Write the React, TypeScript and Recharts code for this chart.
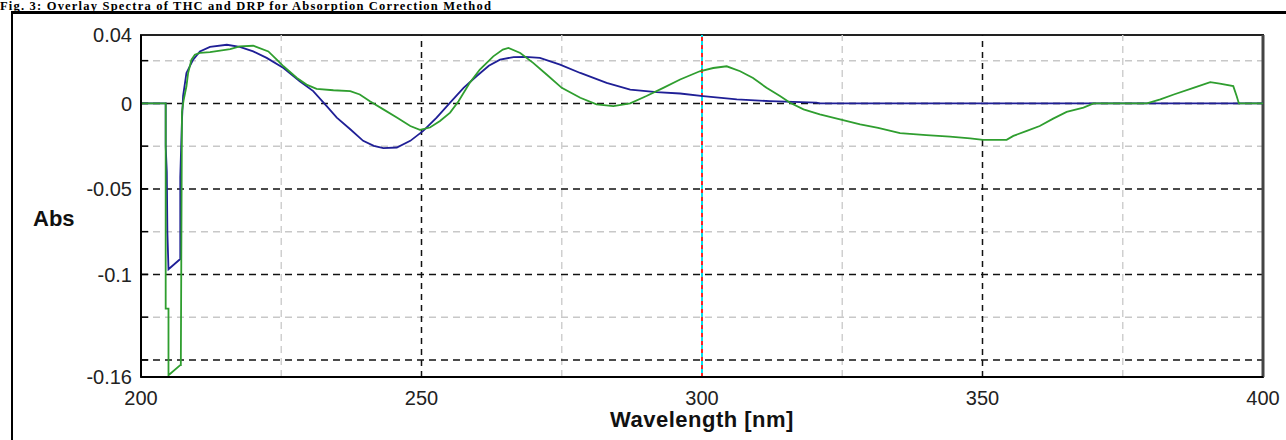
import React from 'react';
import { LineChart, Line, XAxis, YAxis, ReferenceLine, ReferenceArea } from 'recharts';

// blue trace
const thcWavelength = [
  200, 204.4, 204.4, 204.6, 204.7, 204.9, 207.0, 207.0, 207.3, 207.5, 208.1, 209.3, 210.5,
  212.3, 215.3, 217.6, 220, 222.4, 225.4, 228.3, 230.7, 233.1, 234.9, 237.3, 239.6, 241.5,
  243.2, 245.6, 248, 250.3, 252.7, 255.1, 257.5, 259.8, 262, 264, 266.4, 268.5, 271.1, 274.7,
  278.3, 283, 287.2, 291.9, 296.1, 300.2, 306.2, 312.1, 320.4, 321, 400,
];
const thcAbs = [
  0, 0, -0.025, -0.04, -0.075, -0.097, -0.091, -0.043, -0.01, 0.0043, 0.0178, 0.0256, 0.0304,
  0.033, 0.0343, 0.033, 0.0304, 0.0266, 0.0207, 0.013, 0.0072, -0.0016, -0.0083, -0.0151, -0.0219, -0.0248,
  -0.0262, -0.0258, -0.0219, -0.0161, -0.0083, 0.0004, 0.0091, 0.0159, 0.022, 0.0256, 0.0271, 0.0272, 0.0266, 0.0227,
  0.0178, 0.012, 0.0081, 0.0066, 0.0058, 0.0043, 0.0023, 0.0013, 0.0004, 0, 0,
];

// green trace
const drpWavelength = [
  200, 204.4, 204.4, 204.9, 204.9, 207.0, 207.1, 207.3, 207.6, 208.1, 208.4, 209.0, 209.6,
  210.5, 212.3, 215.9, 217.6, 220, 222.7, 224.2, 225.4, 227.8, 229.5, 231.3, 234.3, 237.3,
  239, 240.8, 243.2, 245.6, 248, 249.7, 251.5, 253.3, 255.1, 256.6, 258.6, 260.4, 262.8,
  264.5, 265.5, 267.6, 269.9, 272.3, 275, 278.3, 281.2, 284.2, 287.2, 290.1, 293.1, 296.1,
  299.6, 302, 304.4, 306.8, 309.1, 311.5, 313.9, 315.7, 318.1, 321, 324.6, 328.2, 331.4,
  335.3, 340, 344.2, 347.8, 350.1, 354.3, 355.5, 357.9, 360.2, 362.6, 365, 368, 369.8,
  379.3, 381.7, 384.1, 387.6, 390.6, 392.3, 394.7, 395.3, 395.7, 400,
];
const drpAbs = [
  0, 0, -0.12, -0.12, -0.159, -0.153, -0.153, -0.005, 0.002, 0.01, 0.0178, 0.0256, 0.0285,
  0.0295, 0.03, 0.0318, 0.0333, 0.0337, 0.0304, 0.0256, 0.0217, 0.0149, 0.011, 0.0085, 0.0077, 0.0072,
  0.0052, 0.0013, -0.0035, -0.0083, -0.0132, -0.0155, -0.0141, -0.0103, -0.0054, 0.0013, 0.012, 0.0198, 0.0275,
  0.0315, 0.0324, 0.0295, 0.0237, 0.0169, 0.0091, 0.0033, -0.0006, -0.0016, 0, 0.0043, 0.0091, 0.014,
  0.0188, 0.0207, 0.0217, 0.0188, 0.0149, 0.0091, 0.0043, 0.0004, -0.0035, -0.0064, -0.0093, -0.0122, -0.0143,
  -0.0174, -0.0186, -0.0194, -0.0205, -0.0213, -0.0213, -0.019, -0.0161, -0.0132, -0.0089, -0.005, -0.0025, 0,
  0, 0.0023, 0.0052, 0.0091, 0.0124, 0.0116, 0.0101, 0.0043, 0, 0,
];

const xTicks = [200, 250, 300, 350, 400];
const yTicks = [0.04, 0, -0.05, -0.1, -0.16];
const majorY = [0, -0.05, -0.1, -0.15];
const minorY = [0.025, -0.025, -0.075, -0.125];
const majorX = [250, 350];
const minorX = [225, 275, 325, 375];
const cursorX = 300;

const thcData = thcWavelength.map((x, i) => ({ x, y: thcAbs[i] }));
const drpData = drpWavelength.map((x, i) => ({ x, y: drpAbs[i] }));

const tickFont = { fontSize: 20, fill: '#222', fontFamily: 'Liberation Sans, Arial, sans-serif' };

export default function App() {
  return (
    <div style={{ position: 'relative', width: 1286, height: 440, overflow: 'hidden', background: '#fff' }}>
      <style>{`body{margin:0}`}</style>
      <div
        style={{
          position: 'absolute', left: 0, top: 0, fontFamily: 'Liberation Serif, Times New Roman, serif',
          fontWeight: 'bold', fontSize: 12.5, lineHeight: '12px', letterSpacing: 1.2,
          whiteSpace: 'nowrap', color: '#000',
        }}
      >
        Fig. 3: Overlay Spectra of THC and DRP for Absorption Correction Method
      </div>
      <div
        style={{
          position: 'absolute', left: 11, top: 11, width: 1300, height: 460,
          borderLeft: '2px solid #000', borderTop: '3px solid #000', boxSizing: 'border-box',
        }}
      />
      <div style={{ position: 'absolute', left: 0, top: 0 }}>
        <LineChart width={1286} height={440} data={thcData} margin={{ top: 35, right: 23, bottom: 33, left: 0 }}>
          <XAxis
            dataKey="x" type="number" domain={[200, 400]} ticks={xTicks} allowDataOverflow height={30}
            axisLine={{ stroke: '#000', strokeWidth: 2 }} tickLine={false} tickSize={0} tickMargin={14}
            tick={tickFont}
          />
          <YAxis
            type="number" domain={[-0.16, 0.04]} ticks={yTicks} allowDataOverflow width={141}
            axisLine={{ stroke: '#000', strokeWidth: 2 }} tickLine={false} tickSize={6} tickMargin={3}
            tick={tickFont} tickFormatter={(v: number) => String(v)}
          />
          {minorY.map((v) => (
            <ReferenceLine key={'my' + v} y={v} stroke="#c8c8c8" strokeWidth={1.5} strokeDasharray="7 5" />
          ))}
          {minorX.map((v) => (
            <ReferenceLine key={'mx' + v} x={v} stroke="#cfcfcf" strokeWidth={1.5} strokeDasharray="7 5" />
          ))}
          {majorY.map((v) => (
            <ReferenceLine key={'My' + v} y={v} stroke="#111" strokeWidth={1.5} strokeDasharray="7 5" />
          ))}
          {majorX.map((v) => (
            <ReferenceLine key={'Mx' + v} x={v} stroke="#111" strokeWidth={1.5} strokeDasharray="6 5" />
          ))}
          {[...majorY, ...minorY].map((v) => (
            <ReferenceLine key={'t' + v} segment={[{ x: 200, y: v }, { x: 201.3, y: v }]} stroke="#000" strokeWidth={1.5} />
          ))}
          <ReferenceLine x={cursorX} stroke="#00e5ee" strokeWidth={2} />
          <ReferenceLine x={cursorX} stroke="#ff2020" strokeWidth={2} strokeDasharray="4 4" />
          <ReferenceArea x1={200} x2={400} y1={-0.16} y2={0.04} fill="none" stroke="#222" strokeWidth={2} />
          <ReferenceLine x={400} stroke="#444" strokeWidth={3} />
          <Line
            data={thcData} dataKey="y" type="linear" stroke="#1f1f96" strokeWidth={1.8}
            dot={false} activeDot={false} isAnimationActive={false}
          />
          <Line
            data={drpData} dataKey="y" type="linear" stroke="#2f9e2f" strokeWidth={1.8}
            dot={false} activeDot={false} isAnimationActive={false}
          />
        </LineChart>
      </div>
      <div
        style={{
          position: 'absolute', left: 33, top: 206, fontFamily: 'Liberation Sans, Arial, sans-serif',
          fontWeight: 'bold', fontSize: 22, color: '#111',
        }}
      >
        Abs
      </div>
      <div
        style={{
          position: 'absolute', left: 0, width: 1404, top: 407, textAlign: 'center',
          fontFamily: 'Liberation Sans, Arial, sans-serif', fontWeight: 'bold', fontSize: 22, color: '#111',
          letterSpacing: 0.5,
        }}
      >
        Wavelength [nm]
      </div>
    </div>
  );
}
